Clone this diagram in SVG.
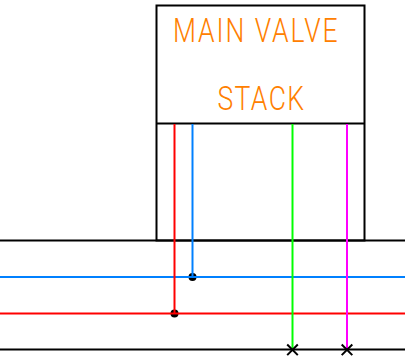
<svg xmlns="http://www.w3.org/2000/svg" width="405" height="362" viewBox="0 0 405 362">
<style>
.k{stroke:#000;stroke-width:2;fill:none}
.c{stroke-width:2;fill:none}
.t{font-family:"Roboto","Liberation Sans",sans-serif;font-weight:300;font-size:34px;fill:#ff8000}
</style>
<rect width="405" height="362" fill="#fff"/>
<g id="main-valve-stack">
<rect class="k" x="156.500" y="5.500" width="208" height="235"/>
<line class="k" x1="156.500" y1="123.500" x2="364.500" y2="123.500"/>
<text class="t" transform="translate(173 42) scale(.78 1)" textLength="211" lengthAdjust="spacing">MAIN VALVE</text>
<text class="t" transform="translate(217.500 110) scale(.78 1)" textLength="111" lengthAdjust="spacing">STACK</text>
</g>
<g id="rails">
<line class="k" x1="0" y1="240.500" x2="405" y2="240.500"/>
<line class="k" x1="0" y1="349.500" x2="405" y2="349.500"/>
</g>
<g id="junction-blue"><circle cx="192.500" cy="277" r="4" fill="#000"/></g>
<g id="junction-red"><circle cx="174.500" cy="313.500" r="4" fill="#000"/></g>
<g id="connectors">
<line class="c" stroke="#0080ff" x1="0" y1="277" x2="405" y2="277"/>
<line class="c" stroke="#ff0000" x1="0" y1="313.500" x2="405" y2="313.500"/>
<line class="c" stroke="#ff0000" x1="174.500" y1="124" x2="174.500" y2="313"/>
<line class="c" stroke="#0080ff" x1="192.500" y1="124" x2="192.500" y2="277"/>
<line class="c" stroke="#00ff00" x1="292.500" y1="124" x2="292.500" y2="349"/>
<line class="c" stroke="#ff00ff" x1="347" y1="124" x2="347" y2="349"/>
</g>
<g id="cross-green"><path class="k" d="M287.200 344.500l10.600 10.600M297.800 344.500l-10.600 10.600"/></g>
<g id="cross-magenta"><path class="k" d="M341.700 344.500l10.600 10.600M352.300 344.500l-10.600 10.600"/></g>
</svg>
